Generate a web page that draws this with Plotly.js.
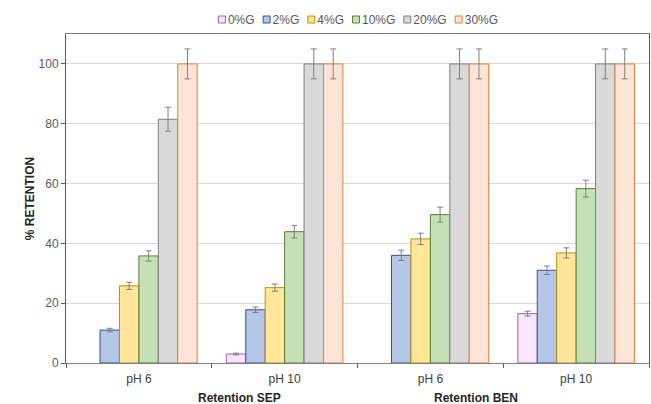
<!DOCTYPE html>
<html><head><meta charset="utf-8">
<script src="https://cdn.plot.ly/plotly-3.0.1.min.js"></script>
<style>body{margin:0;background:#fff}#c{width:651px;height:404px}</style>
</head><body><div id="c"></div>
<script>
const categories = ["SEP pH 6", "SEP pH 10", "BEN pH 6", "BEN pH 10"];
const tickLabels = ["pH 6", "pH 10", "pH 6", "pH 10"];
const groupLabels = ["Retention SEP", "Retention BEN"];
const seriesNames = ["0%G", "2%G", "4%G", "10%G", "20%G", "30%G"];
const g0  = [null, 3, null, 16.5];
const g2  = [11, 17.8, 36, 31];
const g4  = [25.8, 25.2, 41.5, 36.8];
const g10 = [35.8, 43.9, 49.6, 58.3];
const g20 = [81.5, 100, 100, 100];
const g30 = [100, 100, 100, 100];
const e0  = [0, 0.3, 0, 0.8];
const e2  = [0.6, 0.9, 1.7, 1.4];
const e4  = [1.2, 1.2, 1.9, 1.7];
const e10 = [1.7, 2.1, 2.5, 2.8];
const e20 = [4, 5, 5, 5];
const e30 = [5, 5, 5, 5];

const values = [g0, g2, g4, g10, g20, g30];
const errors = [e0, e2, e4, e10, e20, e30];
const fills = ["#f6e6fb", "#b4c7e7", "#ffe699", "#c5e0b4", "#d9d9d9", "#fce4d6"];
const lines = ["#9e5fc4", "#2f5597", "#bf9000", "#548235", "#7f7f7f", "#ed7d31"];

const traces = seriesNames.map((n, i) => ({
  type: "bar", name: n, x: categories, y: values[i],
  marker: {color: fills[i], line: {color: lines[i], width: 1}},
  error_y: {type: "data", array: errors[i], visible: true, color: "#7f7f7f", thickness: 1, width: 3}
}));

const layout = {
  width: 651, height: 404,
  margin: {l: 66, r: 2, t: 34, b: 41},
  paper_bgcolor: "#fff", plot_bgcolor: "#fff",
  font: {family: "Liberation Sans, Arial, sans-serif", size: 12, color: "#595959"},
  barmode: "group", bargap: 0.2, bargroupgap: 0,
  showlegend: true,
  legend: {orientation: "h", x: 0.5, xanchor: "center", y: 1.0, yanchor: "bottom",
    bgcolor: "rgba(0,0,0,0)", font: {size: 12, color: "#595959"}, itemwidth: 30,
    traceorder: "normal"},
  xaxis: {type: "category", tickmode: "array", tickvals: categories, ticktext: tickLabels,
    tickson: "boundaries", ticks: "outside", ticklen: 4, tickcolor: "#595959",
    ticklabelstandoff: 5,
    showline: true, linecolor: "#7f7f7f", linewidth: 1, mirror: true,
    showgrid: false, tickfont: {size: 12, color: "#404040"}},
  yaxis: {range: [0, 110], tickvals: [0, 20, 40, 60, 80, 100], ticks: "outside", ticklen: 4,
    tickcolor: "#595959", showline: true, linecolor: "#595959", linewidth: 1, mirror: true,
    gridcolor: "#d9d9d9", gridwidth: 1, zeroline: false,
    tickfont: {size: 12, color: "#595959"},
    title: {text: "<b>% RETENTION</b>", font: {size: 12, color: "#262626"}, standoff: 1}},
  annotations: [
    {x: 0.69, y: 0, xref: "x", yref: "paper", yshift: -35, yanchor: "middle", showarrow: false,
     text: "<b>" + groupLabels[0] + "</b>", font: {size: 12, color: "#262626"}},
    {x: 2.31, y: 0, xref: "x", yref: "paper", yshift: -35, yanchor: "middle", showarrow: false,
     text: "<b>" + groupLabels[1] + "</b>", font: {size: 12, color: "#262626"}}
  ]
};
Plotly.newPlot("c", traces, layout, {displayModeBar: false, staticPlot: true}).then(gd => {
  // compact the legend entries (small symbol, tight gap), centred like the reference
  const leg = gd.querySelector(".legend");
  if (!leg) return;
  const items = leg.querySelectorAll(".traces");
  let cum = 0;
  items.forEach(it => {
    const m = /translate\(\s*([-\d.]+)[ ,]+([-\d.]+)/.exec(it.getAttribute("transform") || "");
    const ty = m ? parseFloat(m[2]) : 0;
    const pts = it.querySelector(".legendpoints");
    if (pts) {
      pts.setAttribute("transform", "translate(0,0)");
      pts.querySelectorAll("g").forEach(g => g.removeAttribute("transform"));
      pts.querySelectorAll("path").forEach(p => {
        p.setAttribute("d", "M3.5,3.5H-3.5V-3.5H3.5Z");
        p.setAttribute("transform", "translate(4,0)");
      });
    }
    const t = it.querySelector(".legendtext");
    let w = 30;
    if (t) { t.setAttribute("x", 10); w = t.getComputedTextLength(); }
    it.setAttribute("transform", "translate(" + cum + "," + ty + ")");
    cum += 10 + w + 8;
  });
  const total = cum - 8;
  const m2 = /translate\(\s*([-\d.]+)[ ,]+([-\d.]+)/.exec(leg.getAttribute("transform") || "");
  const ly = m2 ? parseFloat(m2[2]) : 5;
  leg.setAttribute("transform", "translate(" + (358 - total / 2) + "," + ly + ")");
  const sb = leg.querySelector(".scrollbox");
  if (sb) sb.removeAttribute("clip-path");
});
</script></body></html>
